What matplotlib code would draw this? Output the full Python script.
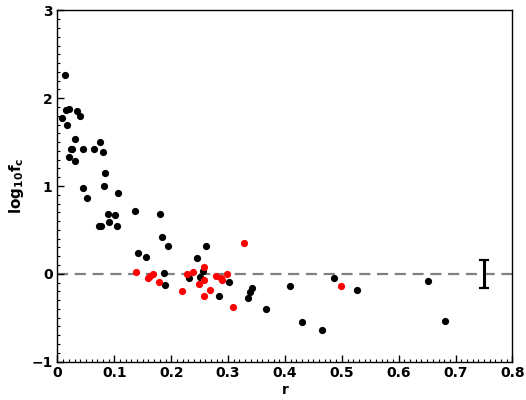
import matplotlib
matplotlib.use("Agg")
import matplotlib.pyplot as plt
from matplotlib.ticker import MultipleLocator

black_r = [0.0137, 0.0155, 0.0207, 0.0348, 0.0396, 0.0084, 0.0172, 0.0308, 0.0753, 0.0232,
           0.0260, 0.0454, 0.0647, 0.0805, 0.0202, 0.0313, 0.0840, 0.0809, 0.0440, 0.0527,
           0.1069, 0.1363, 0.0893, 0.1016, 0.0735, 0.0765, 0.0911, 0.1050, 0.1807, 0.1843,
           0.1946, 0.1421, 0.1561, 0.2458, 0.2615, 0.1878, 0.1895, 0.2317, 0.2502, 0.2562,
           0.2845, 0.3021, 0.3420, 0.3385, 0.3355, 0.3669, 0.4088, 0.4304, 0.4656, 0.4867,
           0.5271, 0.6519, 0.6818]
black_logfc = [2.265, 1.865, 1.877, 1.857, 1.800, 1.774, 1.694, 1.534, 1.499, 1.423,
               1.419, 1.419, 1.423, 1.383, 1.331, 1.282, 1.145, 1.000, 0.974, 0.859,
               0.917, 0.714, 0.678, 0.666, 0.539, 0.539, 0.586, 0.539, 0.677, 0.415,
               0.312, 0.242, 0.194, 0.183, 0.311, 0.014, -0.123, -0.048, -0.038, 0.034,
               -0.249, -0.089, -0.157, -0.211, -0.272, -0.406, -0.135, -0.546, -0.638, -0.046,
               -0.181, -0.078, -0.535]

red_r = [0.1384, 0.1596, 0.1635, 0.1684, 0.1790, 0.2194, 0.2280, 0.2388, 0.2491, 0.2579,
         0.2579, 0.2579, 0.2678, 0.2787, 0.2869, 0.2889, 0.2985, 0.3091, 0.3284, 0.4990]
red_logfc = [0.015, -0.046, -0.029, -0.006, -0.088, -0.200, 0.003, 0.019, -0.112, 0.080,
             -0.066, -0.249, -0.179, -0.029, -0.046, -0.074, 0.002, -0.374, 0.346, -0.135]

err_x = [0.75]
err_y = [0.0]
err_size = [0.16]

x_ticks = [0, 0.1, 0.2, 0.3, 0.4, 0.5, 0.6, 0.7, 0.8]
x_ticklabels = ['0', '0.1', '0.2', '0.3', '0.4', '0.5', '0.6', '0.7', '0.8']
y_ticks = [-1, 0, 1, 2, 3]
y_ticklabels = ['\u22121', '0', '1', '2', '3']

plt.rcParams['font.family'] = 'DejaVu Sans'
plt.rcParams['font.weight'] = 'bold'
plt.rcParams['mathtext.fontset'] = 'dejavusans'
plt.rcParams['mathtext.default'] = 'bf'

fig = plt.figure(figsize=(5.26, 4.0), dpi=100)
ax = fig.add_axes([0.1093, 0.096, 0.865, 0.878])

ax.axhline(0, color='#808080', lw=1.6, ls=(0, (5, 3)), zorder=1)
ax.plot(black_r, black_logfc, 'o', color='black', ms=5.2, mew=0, zorder=3)
ax.plot(red_r, red_logfc, 'o', color='red', ms=5.2, mew=0, zorder=3)
ax.errorbar(err_x, err_y, yerr=err_size, fmt='none', ecolor='black', elinewidth=2.2,
            capsize=3.8, capthick=1.6, zorder=4)

ax.set_xlim(0, 0.8)
ax.set_ylim(-1, 3)
ax.set_xticks(x_ticks)
ax.set_xticklabels(x_ticklabels, fontweight='bold')
ax.set_yticks(y_ticks)
ax.set_yticklabels(y_ticklabels, fontweight='bold')
ax.xaxis.set_minor_locator(MultipleLocator(0.01))
ax.yaxis.set_minor_locator(MultipleLocator(0.1))
ax.tick_params(which='both', direction='in', labelsize=10)
ax.tick_params(which='major', length=5, width=1)
ax.tick_params(which='minor', length=2.5, width=0.8)
for s in ax.spines.values():
    s.set_linewidth(1.0)

ax.set_xlabel('r', fontsize=10, fontweight='bold', labelpad=2)
ax.set_ylabel(r'$log_{10}f_c$', fontsize=11, labelpad=4)

fig.savefig('out.png', dpi=100)
